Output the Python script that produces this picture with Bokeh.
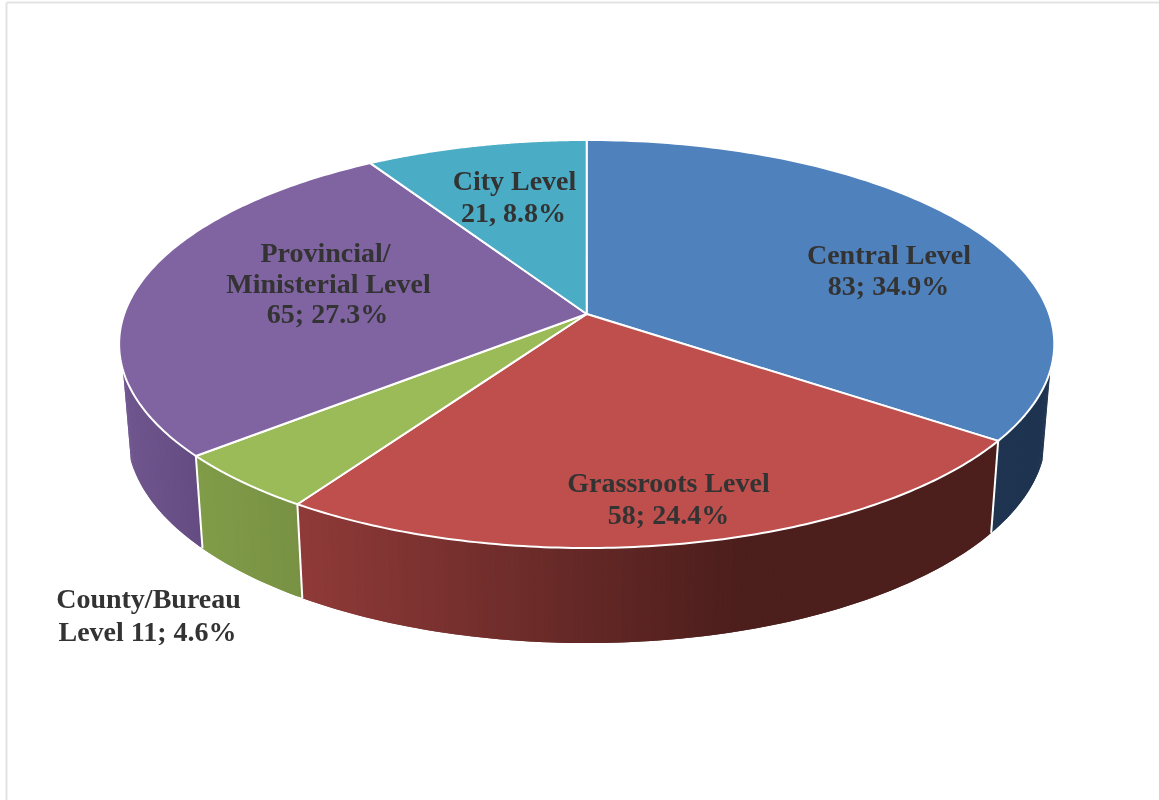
import numpy as np
from bokeh.plotting import figure
from bokeh.models import Range1d, ColumnDataSource
from bokeh.core.properties import value
from bokeh.embed import file_html
from bokeh.resources import INLINE

# ---- data (clockwise from 12 o'clock) ----
categories = ["Central Level", "Grassroots Level", "County/Bureau Level", "Provincial/Ministerial Level", "City Level"]
counts = [83, 58, 11, 65, 21]
top_colors = ["#4F81BD", "#BE4F4C", "#9BBB59", "#8064A2", "#4BACC6"]
wall_left = [(30, 52, 80), (143, 58, 56), (128, 156, 72), (112, 86, 142), (50, 110, 130)]
wall_right = [(30, 52, 80), (76, 30, 28), (120, 145, 68), (100, 76, 130), (50, 110, 130)]
label_lines = [["Central Level", "83; 34.9%"],
               ["Grassroots Level", "58; 24.4%"],
               ["County/Bureau", "Level 11; 4.6%"],
               ["Provincial/", "Ministerial Level", "65; 27.3%"],
               ["City Level", "21, 8.8%"]]
label_x = [[888.5, 888], [668, 668], [148, 147], [325, 328, 327], [514, 513]]
label_y = [[253.5, 285], [482, 514], [598, 631], [251.5, 283, 313], [180, 212]]

# ---- projection of the tilted disc onto the page ----
CX, CY = 586.2, 313.5
AX, AY, K = 462.5, 199.6, 0.147
DX, DYS, DYC = 0.983, 1.028, 88.5
WALL_LIMIT = np.arccos(-0.27)   # the wall shows only below this angle on each side


def top_xy(t):
    X, Y = np.sin(t), np.cos(t)
    w = 1 + K * Y
    return CX + AX * X / w, CY - AY * Y / w


def bottom_xy(t):
    x, y = top_xy(t)
    return CX + DX * (x - CX), CY + DYC + DYS * (y - CY)


total = sum(counts)
edges = np.concatenate([[0], np.cumsum(counts)]) / total * 2 * np.pi

p = figure(width=1159, height=800, output_backend="svg", toolbar_location=None,
           x_range=Range1d(0, 1159), y_range=Range1d(800, 0),
           min_border=0,
           styles={"position": "fixed", "left": "0px", "top": "0px"},
           outline_line_color=None, background_fill_color="white", border_fill_color="white")
p.axis.visible = False
p.grid.visible = False

# page frame
p.segment(x0=[6, 6], y0=[2, 2], x1=[6, 1159], y1=[800, 2], line_color="#E3E3E3", line_width=2)

# side walls: overlapping narrow strips give the horizontal shading
xs, ys, cs = [], [], []
for i in range(len(counts)):
    a, b = edges[i], edges[i + 1]
    a2, b2 = max(a, WALL_LIMIT), min(b, 2 * np.pi - WALL_LIMIT)
    if a2 >= b2:
        continue
    n = max(2, int((b2 - a2) * 110))
    ts = np.linspace(a2, b2, n + 1)
    tx = top_xy(ts)[0]
    lo, hi = tx.min(), tx.max()
    if i == 1:  # red wall reaches its darkest tone about two thirds along
        hi = lo + 440
    order = range(n)
    for j in order:
        qa, qb = ts[j], ts[min(j + 2, n)]
        x0, y0 = top_xy(qa)
        x1, y1 = top_xy(qb)
        x2, y2 = bottom_xy(qb)
        x3, y3 = bottom_xy(qa)
        f = np.clip((0.5 * (x0 + x1) - lo) / (hi - lo), 0, 1)
        c = [int(round(l + (r - l) * f)) for l, r in zip(wall_left[i], wall_right[i])]
        xs.append([x0, x1, x2, x3])
        ys.append([y0, y1, y2, y3])
        cs.append("#%02X%02X%02X" % tuple(c))
p.patches("xs", "ys", source=ColumnDataSource(dict(xs=xs, ys=ys, c=cs)),
          fill_color="c", line_color=None)

# white seams between the walls
sx0, sy0, sx1, sy1 = [], [], [], []
for e in edges[1:-1]:
    if np.pi / 2 < e < 3 * np.pi / 2:
        a = top_xy(e)
        b = bottom_xy(e)
        sx0.append(a[0]); sy0.append(a[1]); sx1.append(b[0]); sy1.append(b[1])
p.segment(sx0, sy0, sx1, sy1, line_color="white", line_width=2)

# top face
fx, fy = [], []
for i in range(len(counts)):
    ts = np.linspace(edges[i], edges[i + 1], 120)
    x, y = top_xy(ts)
    fx.append([CX] + list(x))
    fy.append([CY] + list(y))
p.patches(fx, fy, fill_color=top_colors, line_color="white", line_width=2, line_join="round")

# labels
tx, ty, tt = [], [], []
for lines, lx, ly in zip(label_lines, label_x, label_y):
    tx += lx; ty += ly; tt += lines
p.text(tx, ty, text=tt, text_font=value("Liberation Serif"), text_font_style="bold",
       text_font_size="28px", text_color="#333333", text_align="center", text_baseline="middle")

open("out.html", "w").write(file_html(p, INLINE))
